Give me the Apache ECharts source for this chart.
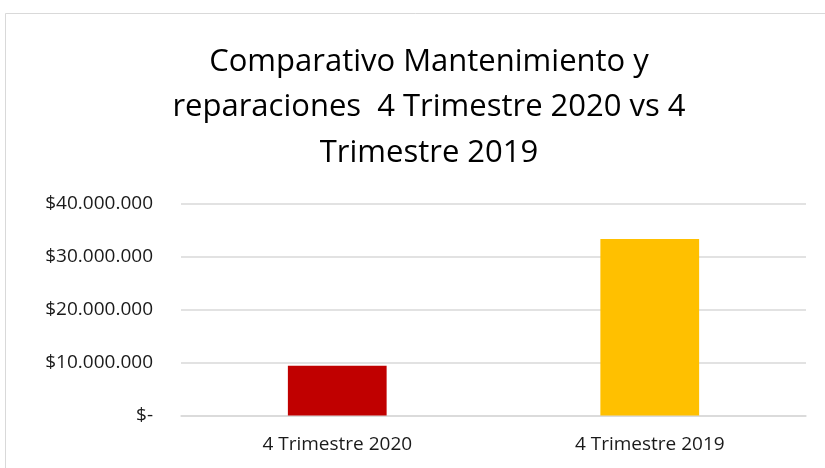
<!DOCTYPE html>
<html>
<head>
<meta charset="utf-8">
<script src="https://cdn.jsdelivr.net/npm/echarts@6/dist/echarts.min.js"></script>
<style>
  html, body { margin: 0; padding: 0; background: #fff; }
  #chart { width: 825px; height: 468px; }
</style>
</head>
<body>
<div id="chart"></div>
<script>
// datos del grafico
const categories = ['4 Trimestre 2020', '4 Trimestre 2019'];
const values = [9380000, 33300000];
const barColors = ['#C00000', '#FFC000'];

const fmt = (v) => {
    if (v === 0) return '$-';
    return '$' + String(v).replace(/\B(?=(\d{3})+(?!\d))/g, '.');
};

const myChart = echarts.init(document.getElementById('chart'), null, { renderer: 'canvas' });

const option = {
    backgroundColor: '#fff',
    animation: false,
    graphic: [{
        type: 'rect',
        shape: { x: 5.5, y: 13.5, width: 830, height: 470 },
        style: { fill: 'none', stroke: '#d9d9d9', lineWidth: 1 }
    }],
    title: {
        text: 'Comparativo Mantenimiento y\nreparaciones  4 Trimestre 2020 vs 4\nTrimestre 2019',
        left: 424,
        top: 34,
        textAlign: 'center',
        textStyle: {
            fontFamily: 'Open Sans',
            fontWeight: 'normal',
            fontSize: 31,
            lineHeight: 45.5,
            color: '#000'
        }
    },
    grid: { left: 181, right: 19, top: 203.5, bottom: 52.5 },
    xAxis: {
        type: 'category',
        data: categories,
        axisTick: { show: false },
        axisLine: { lineStyle: { color: '#d9d9d9', width: 1.5 } },
        axisLabel: { color: '#1a1a1a', fontSize: 19, fontFamily: 'Open Sans', margin: 20 }
    },
    yAxis: {
        type: 'value',
        min: 0,
        max: 40000000,
        interval: 10000000,
        axisLine: { show: false },
        axisTick: { show: false },
        splitLine: { lineStyle: { color: '#d9d9d9', width: 1.5 } },
        axisLabel: {
            color: '#1a1a1a',
            fontSize: 19,
            fontFamily: 'Open Sans',
            margin: 28,
            formatter: fmt
        }
    },
    series: [{
        type: 'bar',
        barWidth: '31.6%',
        data: values.map((v, i) => ({ value: v, itemStyle: { color: barColors[i] } }))
    }]
};

myChart.setOption(option);
</script>
</body>
</html>
